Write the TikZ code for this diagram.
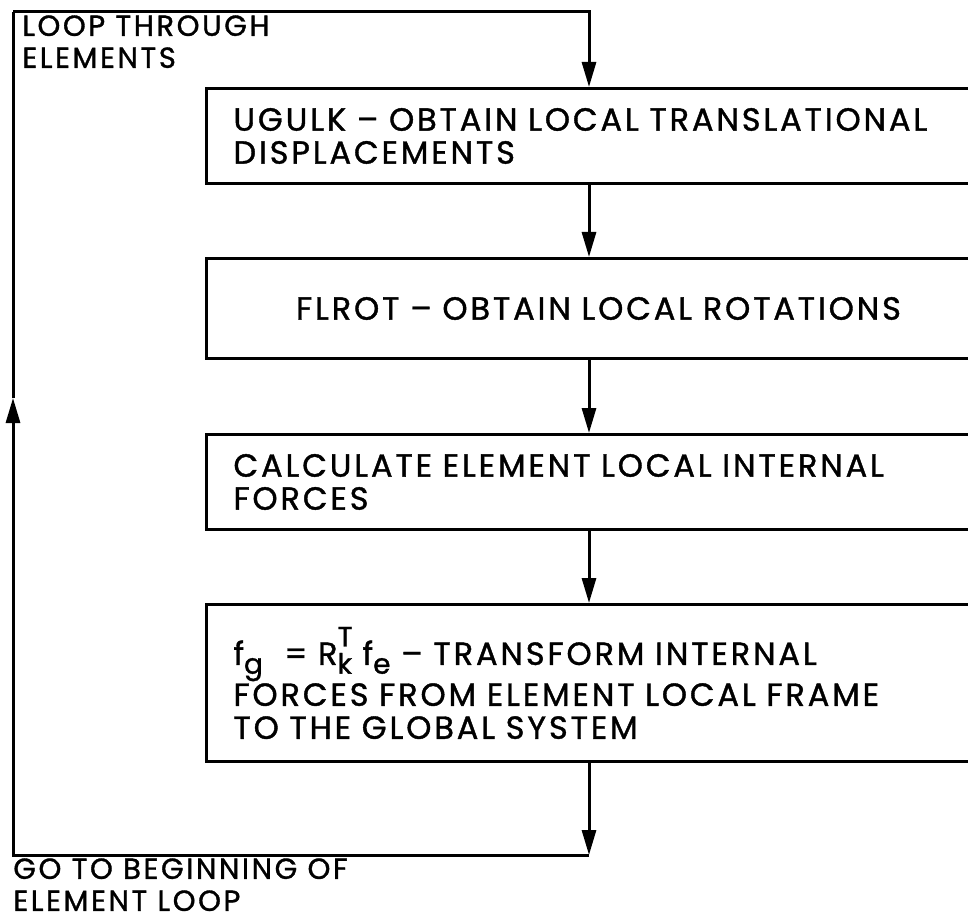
\documentclass[tikz,border=0pt]{standalone}
\usepackage{fontspec}
\setmainfont{Poppins}[LetterSpace=9, FakeBold=1.2]
\usetikzlibrary{arrows.meta}

\newcommand{\lowsub}[1]{\raisebox{-0.5ex}{\fontsize{14}{14}\selectfont #1}}
\newcommand{\highsup}[1]{\rlap{\raisebox{1.05ex}{\fontsize{14}{14}\selectfont #1}}}

\tikzset{
  flow/.style={line width=1.5pt, -{Triangle[length=12.5pt,width=7pt]}},
  loopline/.style={line width=1.5pt},
  stepbox/.style={draw, line width=1.5pt, anchor=north west, text width=365pt,
    inner xsep=13.5pt, inner ysep=0pt, align=left,
    font=\fontsize{16}{16.5}\selectfont},
  looplabel/.style={anchor=north west, inner sep=0pt, align=left,
    font=\fontsize{14.5}{16}\selectfont},
}

\begin{document}
\begin{tikzpicture}[x=0.5pt,y=-0.5pt]
  \useasboundingbox (0,0) rectangle (968,919);
  \clip (0,0) rectangle (968,919);
  % Boxes of the element loop
  \node[stepbox, minimum height=47.5pt] (ugulk) at (205,87)
    {UGULK -- OBTAIN LOCAL TRANSLATIONAL\\DISPLACEMENTS};
  \node[stepbox, minimum height=50pt, align=center] (flrot) at (205,257)
    {FLROT -- OBTAIN LOCAL ROTATIONS};
  \node[stepbox, minimum height=47.5pt] (calc) at (205,433)
    {CALCULATE ELEMENT LOCAL INTERNAL\\FORCES};
  \node[stepbox, minimum height=78.5pt] (trans) at (205,603)
    {f\lowsub{g}\ \ = R\highsup{T}\lowsub{k} f\lowsub{e} -- TRANSFORM INTERNAL\\
     FORCES FROM ELEMENT LOCAL FRAME\\TO THE GLOBAL SYSTEM};
  % Loop labels
  \node[looplabel] (loopin) at (22,15) {LOOP THROUGH\\ELEMENTS};
  \node[looplabel] (loopout) at (13,858) {GO TO BEGINNING OF\\ELEMENT LOOP};
  % Loop corners
  \coordinate (topleft) at (13,12);
  \coordinate (col) at (589,12);
  \coordinate (botleft) at (13,855);
  \coordinate (botcol) at (589,855);
  \coordinate (loopmid) at (13,398);
  % Connectors
  \draw[flow] (topleft) -- (col) -- (col |- ugulk.north);
  \draw[flow] (col |- ugulk.south) -- (col |- flrot.north);
  \draw[flow] (col |- flrot.south) -- (col |- calc.north);
  \draw[flow] (col |- calc.south) -- (col |- trans.north);
  \draw[flow] (col |- trans.south) -- (botcol);
  \draw[flow] (botcol) -- (botleft) -- (loopmid);
  \draw[loopline] (loopmid) -- (topleft);
\end{tikzpicture}
\end{document}
